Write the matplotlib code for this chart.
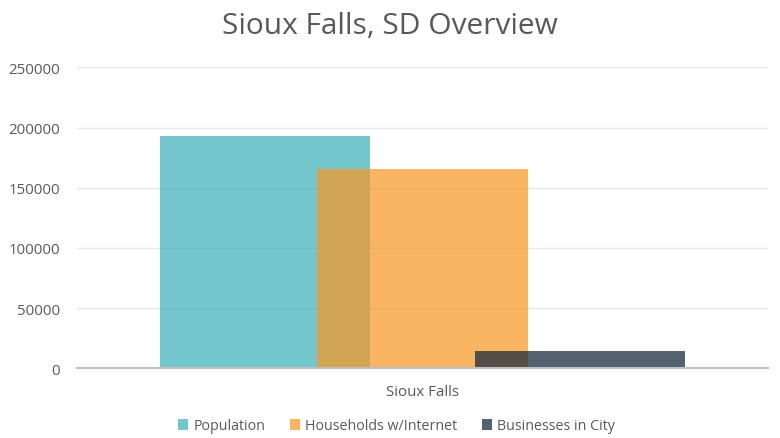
import matplotlib
matplotlib.use("Agg")
import matplotlib.pyplot as plt
from matplotlib.patches import Patch

plt.rcParams['font.family'] = ['Open Sans', 'DejaVu Sans']

categories = ["Sioux Falls"]
series_names = ["Population", "Households w/Internet", "Businesses in City"]
population = [192700]
households = [165700]
businesses = [14400]
yticks = [0, 50000, 100000, 150000, 200000, 250000]

colors = ["#3EB1BA", "#F79A28", "#15283B"]
alpha = 0.73
txt = "#595959"

fig = plt.figure(figsize=(7.8, 4.39), dpi=100)
ax = fig.add_axes([77/780, 1-369.3/439, 691/780, 301/439])

values = [population, households, businesses]
offsets = [-0.228, 0.0, 0.228]
width = 0.305
for vals, off, c, name in zip(values, offsets, colors, series_names):
    ax.bar([i + off for i in range(len(categories))], vals, width=width,
           color=c, alpha=alpha, label=name, zorder=3, linewidth=0)

ax.set_xlim(-0.5, 0.5)
ax.set_ylim(0, 250000)
ax.set_yticks(yticks)
ax.set_yticklabels([str(v) for v in yticks], color=txt, fontsize=10.8)
ax.set_xticks(range(len(categories)))
ax.set_xticklabels(categories, color=txt, fontsize=10.8)
ax.tick_params(axis='y', length=0, pad=12)
ax.tick_params(axis='x', length=0, pad=11)
ax.grid(axis='y', color="#E8E8E8", linewidth=1, zorder=0)
for s in ['top', 'right', 'left']:
    ax.spines[s].set_visible(False)
ax.spines['bottom'].set_color("#BFBFBF")
ax.spines['bottom'].set_linewidth(1.5)
ax.spines['bottom'].set_zorder(4)

fig.text(0.5, 1-26/439, "Sioux Falls, SD Overview", ha='center', va='center',
         fontsize=21.5, color=txt)

handles = [Patch(facecolor=c, alpha=alpha, edgecolor='none') for c in colors]
fig.legend(handles, series_names, loc='center', bbox_to_anchor=(396.5/780, 1-427/439),
           ncol=3, frameon=False, fontsize=10.3, labelcolor=txt,
           handlelength=0.7, handleheight=0.7, handletextpad=0.4, columnspacing=1.7)

fig.savefig("out.png", dpi=100)
